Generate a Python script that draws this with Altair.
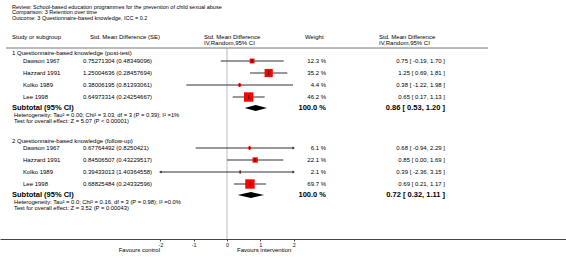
import altair as alt
import pandas as pd

FONT = "Liberation Sans"

title_lines = [
    "Review:   School-based education programmes for the prevention of child sexual abuse",
    "Comparison:   3 Retention over time",
    "Outcome:   3 Questionnaire-based knowledge, ICC = 0.2",
]
group_titles = [
    "1 Questionnaire-based knowledge (post-test)",
    "2 Questionnaire-based knowledge (follow-up)",
]
studies = ["Dawson 1967", "Hazzard 1991", "Kolko 1989", "Lee 1998"]

g1_est = [0.75271304, 1.25004636, 0.38006195, 0.64973314]
g1_se_text = ["0.75271304 (0.48349096)", "1.25004636 (0.28457694)",
              "0.38006195 (0.81393061)", "0.64973314 (0.24254667)"]
g1_lo = [-0.19, 0.69, -1.22, 0.17]
g1_hi = [1.70, 1.81, 1.98, 1.13]
g1_weight = [12.3, 35.2, 4.4, 46.2]

g2_est = [0.67764492, 0.84506507, 0.39433013, 0.68825484]
g2_se_text = ["0.67764492 (0.8250421)", "0.84506507 (0.43229517)",
              "0.39433013 (1.40364558)", "0.68825484 (0.24332596)"]
g2_lo = [-0.94, 0.00, -2.36, 0.21]
g2_hi = [2.29, 1.69, 3.15, 1.17]
g2_weight = [6.1, 22.1, 2.1, 69.7]

sub_est = [0.86, 0.72]
sub_lo = [0.53, 0.32]
sub_hi = [1.20, 1.11]
heterogeneity = [
    "Heterogeneity: Tau² = 0.00; Chi² = 3.03, df = 3 (P = 0.39); I² =1%",
    "Heterogeneity: Tau² = 0.0; Chi² = 0.16, df = 3 (P = 0.98); I² =0.0%",
]
overall = [
    "Test for overall effect: Z = 5.07 (P < 0.00001)",
    "Test for overall effect: Z = 3.52 (P = 0.00043)",
]
tick_values = [-2, -1, 0, 1, 2]
favours_left = "Favours control"
favours_right = "Favours intervention"

# ---------------- layout (pixels) ----------------
PLOT_H = 239
title_y = [6.5, 12, 17.5]
header_y1, header_y2, header_line_y = 37, 43, 48
group_header_y = [53, 141]
first_study_y = [61, 148]
row_step = 12
clip_lo, clip_hi = -2, 2

groups = [
    (g1_est, g1_se_text, g1_lo, g1_hi, g1_weight),
    (g2_est, g2_se_text, g2_lo, g2_hi, g2_weight),
]

study_rows, arrow_rows, diamond_rows, sub_rows = [], [], [], []
for gi, (est, se_t, lo, hi, w) in enumerate(groups):
    wmax = max(w)
    for i, s in enumerate(studies):
        y = first_study_y[gi] + row_step * i
        study_rows.append(dict(
            y=y, study=s, se=se_t[i], est=est[i], lo_c=max(lo[i], clip_lo),
            hi_c=min(hi[i], clip_hi), rel=w[i] / wmax,
            wtxt=f"{w[i]:.1f} %",
            ci=f"{est[i]:.2f} [ {lo[i]:.2f}, {hi[i]:.2f} ]"))
        if lo[i] < clip_lo:
            arrow_rows.append(dict(y=y, ax=clip_lo, shape="triangle-left"))
        if hi[i] > clip_hi:
            arrow_rows.append(dict(y=y, ax=clip_hi, shape="triangle-right"))
    ys = first_study_y[gi] + row_step * (len(studies) - 1) + 11
    sub_rows.append(dict(y=ys, label="Subtotal (95% CI)", wtxt="100.0 %",
                         ci=f"{sub_est[gi]:.2f} [ {sub_lo[gi]:.2f}, {sub_hi[gi]:.2f} ]",
                         het=heterogeneity[gi], ovr=overall[gi],
                         y_het=ys + 7, y_ovr=ys + 13, gtitle=group_titles[gi],
                         y_g=group_header_y[gi]))
    half = 3
    for xv, dy in [(sub_lo[gi], 0), (sub_est[gi], half), (sub_hi[gi], 0)]:
        diamond_rows.append(dict(grp=gi, dx=xv, top=ys - dy, bot=ys + dy))

sdf = pd.DataFrame(study_rows)
adf = pd.DataFrame(arrow_rows)
ddf = pd.DataFrame(diamond_rows)
subdf = pd.DataFrame(sub_rows)

# effect scale: 0 at x=227 px, 33.33 px per unit, over full 566 px width
PX0, PXU, W = 227, 33.33, 566
xscale = alt.Scale(domain=[-PX0 / PXU, (W - PX0) / PXU], nice=False, zero=False)
xaxis = alt.Axis(values=tick_values, title=None, grid=False, labelExpr="'' + datum.value",
                 labelFontSize=5.5, labelFont=FONT, labelColor="#111", tickSize=2,
                 tickColor="#444", domainColor="#444", domainWidth=1, labelPadding=1)
yscale = alt.Scale(domain=[0, PLOT_H], reverse=True, nice=False, zero=False)


def X(f):
    return alt.X(f, type="quantitative", scale=xscale, axis=xaxis)


def Y(f):
    return alt.Y(f, type="quantitative", scale=yscale, axis=None)


def txt(df, field, yfield, x, align="left", size=6, bold=False):
    return alt.Chart(df).mark_text(
        align=align, baseline="middle", fontSize=size, font=FONT,
        fontWeight="bold" if bold else "normal", color="#000"
    ).encode(x=alt.value(x), y=Y(yfield), text=alt.Text(f"{field}:N"))


tdf = pd.DataFrame({"y": title_y, "t": title_lines})
h1 = pd.DataFrame({"y": [header_y1], "a": ["Study or subgroup"], "b": ["Std. Mean Difference (SE)"],
                   "c": ["Std. Mean Difference"], "d": ["Weight"]})
h2 = pd.DataFrame({"y": [header_y2], "c": ["IV,Random,95% CI"]})
fav = pd.DataFrame({"y": [250], "l": [favours_left], "r": [favours_right]})

layers = [
    alt.Chart(pd.DataFrame({"x": [0]})).mark_rule(color="#bbbbbb", strokeWidth=1).encode(
        x=X("x"), y=alt.value(header_line_y), y2=alt.value(PLOT_H)),
    alt.Chart(pd.DataFrame({"x": [0]})).mark_rule(color="#777777", strokeWidth=1).encode(
        x=alt.value(6), x2=alt.value(488), y=alt.value(header_line_y)),
    txt(tdf, "t", "y", 12, size=5.5),
    txt(h1, "a", "y", 12), txt(h1, "b", "y", 90), txt(h1, "c", "y", 204), txt(h1, "d", "y", 305),
    txt(h1, "c", "y", 379), txt(h2, "c", "y", 204), txt(h2, "c", "y", 379),
    txt(subdf, "gtitle", "y_g", 12),
    txt(sdf, "study", "y", 23), txt(sdf, "se", "y", 83),
    txt(sdf, "wtxt", "y", 326, align="right"), txt(sdf, "ci", "y", 445, align="right"),
    txt(subdf, "label", "y", 12, size=7.5, bold=True),
    txt(subdf, "wtxt", "y", 326, align="right", size=7.5, bold=True),
    txt(subdf, "ci", "y", 445, align="right", size=7.5, bold=True),
    txt(subdf, "het", "y_het", 14, size=5.8), txt(subdf, "ovr", "y_ovr", 14, size=5.8),
    txt(fav, "l", "y", 160, align="right"), txt(fav, "r", "y", 237),
    alt.Chart(sdf).mark_rule(color="#333333", strokeWidth=1).encode(
        x=X("lo_c"), x2=alt.X2("hi_c"), y=Y("y")),
    alt.Chart(adf).mark_point(filled=True, color="#333333", size=9, opacity=1).encode(
        x=X("ax"), y=Y("y"), shape=alt.Shape("shape:N", scale=None, legend=None)),
    alt.Chart(sdf).mark_square(color="#ff0000", opacity=1).encode(
        x=X("est"), y=Y("y"),
        size=alt.Size("rel:Q", scale=alt.Scale(domain=[0, 1], range=[0, 88]), legend=None)),
    alt.Chart(sdf).mark_tick(orient="vertical", color="#000", size=4, thickness=1).encode(
        x=X("est"), y=Y("y")),
    alt.Chart(ddf).mark_area(color="#000", opacity=1).encode(
        x=X("dx"), y=Y("top"), y2=alt.Y2("bot"), detail="grp:N"),
]

chart = alt.layer(*layers).properties(
    width=W, height=PLOT_H,
    padding={"left": 0, "top": 0, "right": 0, "bottom": 30},
    autosize=alt.AutoSizeParams(type="none"),
).configure_view(stroke=None)

chart.save("out.html", embed_options={"renderer": "svg", "actions": False})
